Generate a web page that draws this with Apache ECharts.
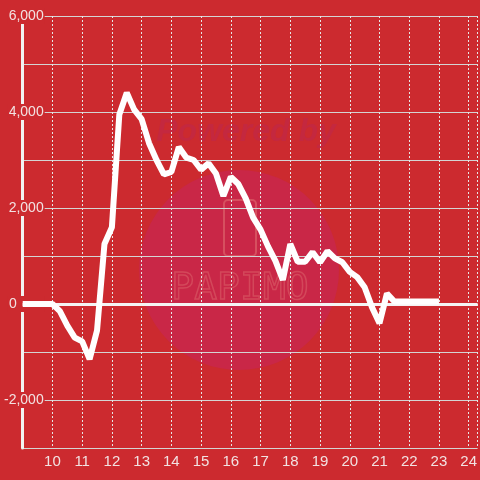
<!DOCTYPE html>
<html>
<head>
<meta charset="utf-8">
<script src="https://cdn.jsdelivr.net/npm/echarts@6/dist/echarts.min.js"></script>
<style>
	html, body { margin: 0; padding: 0; background: #cc2a2f; }
	#chart { width: 480px; height: 480px; }
</style>
</head>
<body>
<div id="chart"></div>
<script>
// time of day (hours), one point every 15 minutes from 9:00 to 23:00
var hours = [];
for (var h = 9; h <= 23; h += 0.25) { hours.push(h); }
var values = [
	0, 0, 0, 0, 0, -150, -450, -700, -780, -1150, -550, 1250, 1600,
	3950, 4400, 4050, 3850, 3350, 3000, 2700, 2750, 3270, 3050, 3000,
	2800, 2930, 2720, 2250, 2650, 2500, 2200, 1800, 1550, 1200, 900,
	500, 1250, 880, 880, 1080, 870, 1100, 950, 870, 670, 560, 350,
	-70, -400, 220, 50, 50, 50, 50, 50, 50, 50
];
var yTicks = [-2000, 0, 2000, 4000, 6000];

var chartData = {
	build: function () {
		var d = [];
		for (var i = 0; i < values.length; i++) {
			d.push([hours[i], values[i]]);
		}
		return d;
	},
	fmt: function (v) {
		if (yTicks.indexOf(v) < 0) return '';
		if (v === 0) return '{zero|0}';
		return v.toLocaleString('en-US');
	}
};

var myChart = echarts.init(document.getElementById('chart'));
var option = {
	backgroundColor: '#cc2a2f',
	animation: false,
	grid: { left: 21, right: 0, top: 16, bottom: 32, containLabel: false },
	graphic: [
		{ type: 'circle', z: -10, shape: { cx: 239, cy: 270, r: 100 }, style: { fill: '#c92747' } },
		{ type: 'text', z: -9, x: 246, y: 132, style: { text: 'Powered by', fill: '#c4283f', font: 'italic bold 32px "Liberation Sans"', align: 'center', verticalAlign: 'middle' } },
		{ type: 'rect', z: -9, shape: { x: 224, y: 200, width: 32, height: 56, r: 4 }, style: { fill: 'none', stroke: '#d6505f', lineWidth: 2 } },
		{ type: 'text', z: -9, x: 240, y: 289, style: { text: 'PAPIMO', fill: 'none', stroke: '#d6505f', lineWidth: 1.5, opacity: 0.8, font: '38px "DejaVu Sans Mono"', align: 'center', verticalAlign: 'middle' } }
	],
	xAxis: {
		type: 'value',
		min: 9,
		max: 24.3,
		interval: 1,
		axisLine: { show: false },
		axisTick: { show: false },
		axisLabel: {
			color: '#f2e2e2', fontSize: 15, fontFamily: 'Liberation Sans', margin: 6,
			showMinLabel: false, showMaxLabel: false
		},
		splitLine: { show: true, lineStyle: { color: '#e6e6e6', type: [2, 2], width: 1 } }
	},
	yAxis: {
		type: 'value',
		min: -3000,
		max: 6000,
		interval: 1000,
		axisLine: { show: true, lineStyle: { color: '#f2f2f2', width: 3 } },
		axisTick: { show: false },
		axisLabel: {
			color: '#f2e2e2', fontSize: 14, fontFamily: 'Liberation Sans', margin: -22,
			backgroundColor: '#cc2a2f', padding: [1, 1, 1, 1],
			formatter: chartData.fmt,
			rich: {
				zero: { color: '#f2e2e2', fontSize: 14, fontFamily: 'Liberation Sans', padding: [0, 27, 0, 0] }
			}
		},
		splitLine: { show: true, lineStyle: { color: '#d4d4d4', width: 1 } }
	},
	series: [
		{
			type: 'line',
			data: chartData.build(),
			showSymbol: false,
			lineStyle: { color: '#ffffff', width: 6 },
			z: 5,
			markLine: {
				silent: true,
				symbol: 'none',
				label: { show: false },
				lineStyle: { color: '#f4f4f4', width: 3, type: 'solid' },
				data: [{ yAxis: 0 }]
			}
		}
	]
};
myChart.setOption(option);
</script>
</body>
</html>
